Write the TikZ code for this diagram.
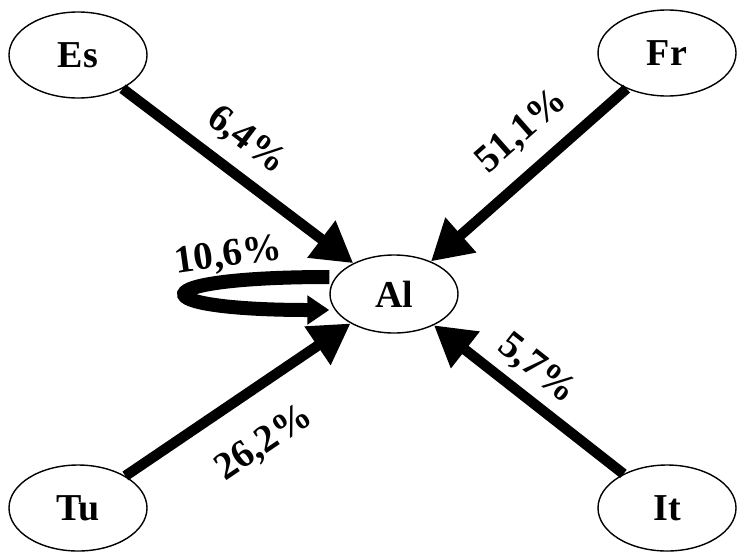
\documentclass[tikz,border=0pt]{standalone}
\usepackage{fontspec}
\setmainfont{Liberation Serif}
\usetikzlibrary{shapes.geometric,arrows.meta,positioning}

\begin{document}
\begin{tikzpicture}[x=0.5pt, y=-0.5pt,
  country/.style={ellipse,draw,line width=0.7pt,inner sep=0pt,font=\fontsize{19}{22}\selectfont\bfseries},
  share/.style={draw,line width=5.2pt,-{Triangle[length=20pt,width=22pt]}},
  selfloop/.style={draw,line width=7pt,-{Triangle[length=11pt,width=14pt]}},
  pct/.style={inner sep=0pt,font=\fontsize{19.5}{22}\selectfont\bfseries}]
\useasboundingbox (0,0) rectangle (737,552);

\foreach \pos/\name/\w/\h in {{(78,55)/Es/69/43}, {(667,53)/Fr/69/43}, {(394,294)/Al/64/39}, {(78,508)/Tu/69/43}, {(667,508)/It/69/43}}
\node[country,minimum width=\w pt,minimum height=\h pt] (\name) at \pos {\name};

% Flows into Al
\path[share] (Es) -- node[pct,sloped,pos=0.45,above=6pt] {6,4\%} (Al);
\path[share] (Fr) -- node[pct,sloped,pos=0.41,above=8pt] {51,1\%} (Al);
\path[share] (Tu) -- node[pct,sloped,pos=0.49,below=15pt] {26,2\%} (Al);
\path[share] (It) -- node[pct,sloped,pos=0.55,above=4pt] {5,7\%} (Al);

% Al back to itself
\coordinate (loopout) at ([yshift=8.5pt]Al.west);
\coordinate (loopin) at ([yshift=-8pt]Al.west);
\path[selfloop] (loopout) .. controls +(-190,0) and +(-190,0) .. node[pct,pos=0.22,above=1pt,rotate=8] {10,6\%} (loopin);

\end{tikzpicture}
\end{document}
